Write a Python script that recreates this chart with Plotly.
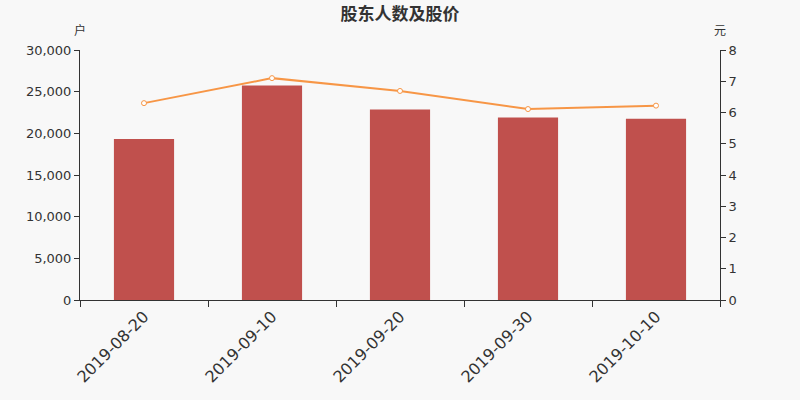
import plotly.graph_objects as go

dates = ['2019-08-20', '2019-09-10', '2019-09-20', '2019-09-30', '2019-10-10']
holders = [19320, 25740, 22860, 21900, 21740]
prices = [6.30, 7.10, 6.69, 6.11, 6.22]

font = 'DejaVu Sans, Noto Sans CJK SC'

fig = go.Figure()
fig.add_trace(go.Bar(
    x=dates, y=holders, name='股东人数',
    marker=dict(color='#c0504d', line=dict(width=0)),
    width=0.47,
))
fig.add_trace(go.Scatter(
    x=dates, y=prices, name='股价', yaxis='y2',
    mode='lines+markers',
    line=dict(color='#f79646', width=2),
    marker=dict(size=5, color='white', line=dict(color='#f79646', width=1)),
))

fig.update_layout(
    width=800, height=400,
    paper_bgcolor='#f8f8f8', plot_bgcolor='#f8f8f8',
    margin=dict(l=80, r=80, t=50, b=100),
    showlegend=False,
    font=dict(family=font, color='#333333', size=13),
    title=dict(text='<b>股东人数及股价</b>', x=0.5, xanchor='center',
               y=0.965, yref='container', yanchor='middle',
               font=dict(family='Noto Sans CJK SC', size=17, color='#333333')),
    xaxis=dict(
        type='category', tickson='boundaries', ticks='outside', ticklen=6,
        tickcolor='#333333', showline=True, linecolor='#333333',
        tickangle=-45, tickfont=dict(size=16, color='#333333'),
        showgrid=False,
    ),
    yaxis=dict(
        range=[0, 30000], dtick=5000, tickformat=',',
        ticks='outside', ticklen=5, tickcolor='#333333',
        showline=True, linecolor='#333333', showgrid=False, zeroline=False,
    ),
    yaxis2=dict(
        range=[0, 8], dtick=1, overlaying='y', side='right',
        ticks='outside', ticklen=5, tickcolor='#333333',
        showline=True, linecolor='#333333', showgrid=False, zeroline=False,
    ),
    annotations=[
        dict(text='户', xref='paper', yref='paper', x=0, y=1.04,
             xanchor='center', yanchor='bottom', showarrow=False,
             font=dict(family='Noto Sans CJK SC', size=12)),
        dict(text='元', xref='paper', yref='paper', x=1, y=1.04,
             xanchor='center', yanchor='bottom', showarrow=False,
             font=dict(family='Noto Sans CJK SC', size=12)),
    ],
)

fig.write_html('out.html', config={'displayModeBar': False},
               post_script="document.body.style.margin='0';")
